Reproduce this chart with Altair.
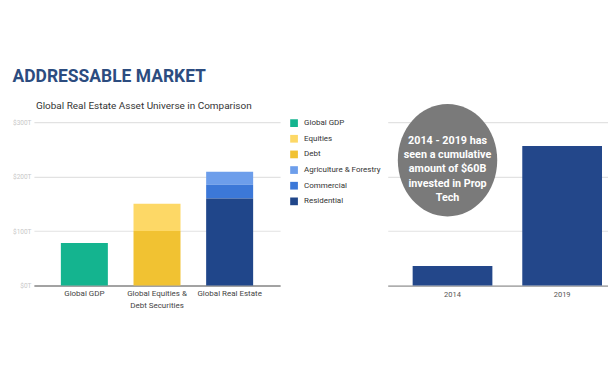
import altair as alt
import pandas as pd

# ---- Left chart data: Global Real Estate Asset Universe ($T) ----
categories = ["Global GDP", "Global Equities & Debt Securities", "Global Real Estate"]
segments = ["Global GDP", "Equities", "Debt", "Agriculture & Forestry", "Commercial", "Residential"]
seg_category = ["Global GDP", "Global Equities & Debt Securities", "Global Equities & Debt Securities",
                "Global Real Estate", "Global Real Estate", "Global Real Estate"]
seg_values = [78, 50, 100, 24, 25, 160]
seg_order = [0, 1, 0, 2, 1, 0]
seg_colors = ["#14B48F", "#FDD866", "#F1C232", "#6D9EEB", "#3C78D8", "#20468A"]
y_ticks_left = [0, 100, 200, 300]

# ---- Right chart data: PropTech investment ----
years = ["2014", "2019"]
proptech_values = [1.8, 12.8]
y_ticks_right = [0, 5, 10, 15]

note_lines = ["2014 - 2019 has", "seen a cumulative", "amount of $60B", "invested in Prop", "Tech"]
note_anchor_year = ["2014"]
note_circle_y = [11.5]
note_text_y = [13.8]

FONT = "Roboto"

left_df = pd.DataFrame({"category": seg_category, "segment": segments,
                        "value": seg_values, "order": seg_order})

label_expr = ("datum.value == 'Global Equities & Debt Securities' ? "
              "['Global Equities &', 'Debt Securities'] : datum.label")

left = alt.Chart(left_df).mark_bar().encode(
    x=alt.X("category:N", sort=categories,
            scale=alt.Scale(paddingInner=0.353, paddingOuter=0.371),
            axis=alt.Axis(title=None, labelAngle=0, ticks=False, domainColor="#8a8a8a",
                          domainWidth=1.5, labelFont=FONT, labelFontSize=8,
                          labelColor="#444444", labelPadding=4, labelLineHeight=12,
                          labelExpr=label_expr)),
    y=alt.Y("value:Q", stack="zero", scale=alt.Scale(domain=[0, 300]),
            axis=alt.Axis(values=y_ticks_left, title=None, ticks=False, domain=False,
                          labelExpr="'$' + datum.value + 'T'", labelFont=FONT,
                          labelFontSize=6.5, labelColor="#c8c8c8", labelPadding=3,
                          gridColor="#e2e2e2", gridWidth=1.2)),
    color=alt.Color("segment:N", scale=alt.Scale(domain=segments, range=seg_colors),
                    legend=alt.Legend(title=None, orient="none", legendX=257, legendY=-3,
                                      padding=0, symbolType="square", symbolSize=60,
                                      symbolStrokeWidth=0, labelFont=FONT,
                                      labelFontSize=8, labelColor="#333333",
                                      rowPadding=7.7, labelOffset=6)),
    order=alt.Order("order:Q"),
).properties(
    width=247, height=164,
    title=alt.TitleParams("Global Real Estate Asset Universe in Comparison", font=FONT,
                          fontSize=10, fontWeight="normal", color="#333333",
                          anchor="start", frame="group", dx=2, offset=8),
)

right_df = pd.DataFrame({"year": years, "value": proptech_values})
note_df = pd.DataFrame({"year": note_anchor_year, "cy": note_circle_y, "ty": note_text_y,
                        "text": ["\n".join(note_lines)]})

yscale_r = alt.Scale(domain=[0, 15], nice=False)
yaxis_r = alt.Axis(values=y_ticks_right, labels=False, ticks=False, domain=False,
                   title=None, gridColor="#e2e2e2", gridWidth=1.2)
xr = alt.X("year:N", scale=alt.Scale(paddingInner=0.2727, paddingOuter=0.141, align=0.806),
           axis=alt.Axis(title=None, labelAngle=0, ticks=False, domainColor="#9a9a9a",
                         domainWidth=1.2, labelFont=FONT, labelFontSize=7.5,
                         labelColor="#555555", labelPadding=5))

ellipse = "M -0.885,0 A 0.885,1 0 1 0 0.885,0 A 0.885,1 0 1 0 -0.885,0 Z"

bars_r = alt.Chart(right_df).mark_bar(color="#23478A").encode(
    x=xr, y=alt.Y("value:Q", scale=yscale_r, axis=yaxis_r))
circle = alt.Chart(note_df).mark_point(shape=ellipse, size=12700, filled=True, color="#7a7a7a",
                                       opacity=1, xOffset=-5).encode(
    x=alt.X("year:N"), y=alt.Y("cy:Q", scale=yscale_r, axis=yaxis_r))
note = alt.Chart(note_df).mark_text(lineBreak="\n", font=FONT, fontSize=10.8, fontWeight="bold",
                                    color="white", align="center", baseline="top",
                                    lineHeight=14.2, xOffset=-5).encode(
    x=alt.X("year:N"), y=alt.Y("ty:Q", scale=yscale_r, axis=yaxis_r), text="text:N")

right = alt.layer(bars_r, circle, note).properties(width=221, height=164)

chart = alt.hconcat(left, right, spacing=7).resolve_legend(color="independent").properties(
    title=alt.TitleParams("ADDRESSABLE MARKET", anchor="start", font=FONT, fontSize=17.5,
                          fontWeight="bold", color="#2C4C7F", offset=16),
    padding={"left": 4, "top": 59, "right": 0, "bottom": 0},
).configure_view(stroke=None)

chart.save("out.html", embed_options={"renderer": "svg", "actions": False})
